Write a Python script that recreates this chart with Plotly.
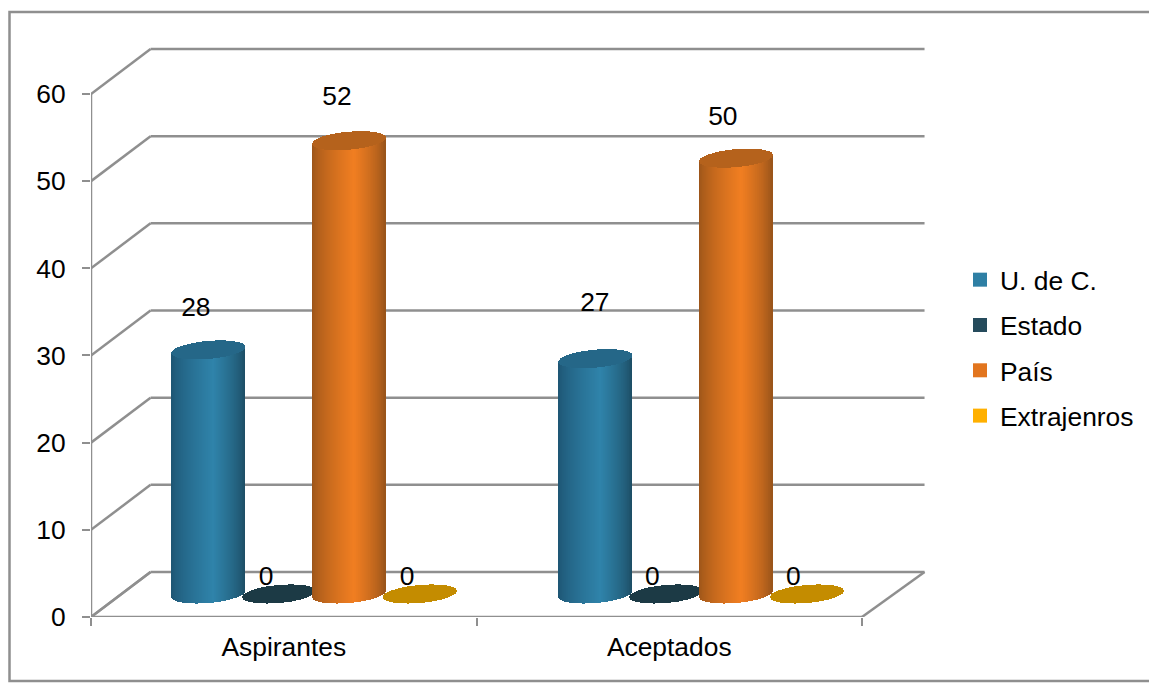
import plotly.graph_objects as go

categories = ["Aspirantes", "Aceptados"]
series_names = ["U. de C.", "Estado", "País", "Extrajenros"]
uc_values = [28, 27]
estado_values = [0, 0]
pais_values = [52, 50]
extranjeros_values = [0, 0]
y_ticks = [0, 10, 20, 30, 40, 50, 60]

# colours: (edge-left, centre, edge-right, cap, legend)
palette = [
    ("#1D5472", "#2F83AA", "#1C4C63", "#256788", "#2E7FA4"),
    ("#1C3A45", "#1C3A45", "#1C3A45", "#1C3A45", "#254B5C"),
    ("#9A5419", "#F17E21", "#97531A", "#B5621C", "#E2751E"),
    ("#C48C00", "#C48C00", "#C48C00", "#C48C00", "#FFB000"),
]
values = [uc_values, estado_values, pais_values, extranjeros_values]

# placement of each series inside a category, in category units
series_centers = [0.3045, 0.4877, 0.669, 0.853]
cat_starts = [0.0, 1.004]
half_w = 0.0945          # cylinder half width (x units)
half_h = 1.03            # ellipse half height (y units)
tilt = 0.36              # rise from centre to right end (y units)
depth_x = 0.1545         # back wall shift (x units)
depth_y = 5.16           # back wall shift (y units)
floor_y = 2.64           # where cylinders stand (y units)
n_strips = 110

# data label placement, relative to category start / value
label_x = [[0.272, 0.454, 0.638, 0.82], [0.307, 0.456, 0.639, 0.822]]
label_dy = [[7.3, 4.4, 7.5, 4.4], [8.9, 4.4, 7.2, 4.4]]

GRID = "#8F8F8F"
LW = 2.5
TXT = "#000000"
FONT = "Liberation Sans"
FS = 26.4

# plot box in window pixels
P_L, P_R, P_T, P_B = 91, 935, 40, 617
PX_PER_X = 385.5
PX_PER_Y = 8.717
x_rng = [0, (P_R - P_L) / PX_PER_X]
y_rng = [0, (P_B - P_T) / PX_PER_Y]


def hex2rgb(h):
    return [int(h[i:i + 2], 16) for i in (1, 3, 5)]


def mix(a, b, f):
    a, b = hex2rgb(a), hex2rgb(b)
    return "rgb(%d,%d,%d)" % tuple(round(p + (q - p) * f) for p, q in zip(a, b))


def shade(t, left, mid, right, peak=0.15):
    if t < peak:
        f = (t + 1) / (peak + 1)
        return mix(left, mid, min(1, (f ** 0.7)))
    f = (1 - t) / (1 - peak)
    return mix(right, mid, min(1, (f ** 0.7)))


fig = go.Figure()
ts = [-1 + (2 * i + 1) / n_strips for i in range(n_strips)]
strip_w = 2 * half_w / n_strips * 1.3


def edge(center, t, sign):
    return center + tilt * t + sign * half_h * (1 - t * t) ** 0.5


for ci in range(len(categories)):
    for si, vals in enumerate(values):
        v = vals[ci]
        cx = cat_starts[ci] + series_centers[si]
        xs = [cx + t * half_w for t in ts]
        base_low = [edge(floor_y, t, -1) for t in ts]
        top_low = [edge(floor_y + v, t, -1) for t in ts]
        top_up = [edge(floor_y + v, t, 1) for t in ts]
        left, mid, right, cap, _ = palette[si]
        fig.add_trace(go.Bar(
            x=xs, base=base_low, y=[a - b for a, b in zip(top_low, base_low)],
            width=strip_w, marker=dict(color=[shade(t, left, mid, right) for t in ts], line_width=0),
            showlegend=False, hoverinfo="skip"))
        fig.add_trace(go.Bar(
            x=xs, base=top_low, y=[a - b for a, b in zip(top_up, top_low)],
            width=strip_w, marker=dict(color=cap, line_width=0),
            showlegend=False, hoverinfo="skip"))

for si, name in enumerate(series_names):
    fig.add_trace(go.Scatter(x=[None], y=[None], name=name, legendgroup=name, mode="markers",
                             marker=dict(color=palette[si][4], symbol="square", size=14, line_width=0),
                             hoverinfo="skip"))

# axis lines and floor edges
fig.add_trace(go.Scatter(
    x=[0, 0, None, 0, 2, None, 0, depth_x, None, 2, 2 + depth_x * 1.05],
    y=[0, y_ticks[-1], None, 0, 0, None, 0, depth_y, None, 0, depth_y],
    mode="lines", line=dict(color=GRID, width=LW), cliponaxis=False,
    showlegend=False, hoverinfo="skip"))

# data labels
lx, ly, lt = [], [], []
for ci in range(len(categories)):
    for si, vals in enumerate(values):
        lx.append(ci + label_x[ci][si])
        ly.append(vals[ci] + label_dy[ci][si])
        lt.append(str(vals[ci]))
fig.add_trace(go.Scatter(x=lx, y=ly, text=lt, mode="text", textposition="middle center",
                         textfont=dict(family=FONT, size=FS, color=TXT),
                         showlegend=False, hoverinfo="skip"))

# back wall grid and depth lines
shapes = []
right_back = 2 + depth_x * 1.05
for v in y_ticks:
    shapes.append(dict(type="line", xref="x", yref="y", layer="below",
                       x0=depth_x, x1=right_back, y0=v + depth_y, y1=v + depth_y,
                       line=dict(color=GRID, width=LW)))
    shapes.append(dict(type="line", xref="x", yref="y", layer="below",
                       x0=0, x1=depth_x, y0=v, y1=v + depth_y,
                       line=dict(color=GRID, width=LW)))

# outer chart frame
W = P_R - P_L
H = P_B - P_T
shapes.append(dict(type="rect", xref="paper", yref="paper", layer="below",
                   x0=(9.5 - P_L) / W, x1=(1160 - P_L) / W,
                   y0=(P_B - 681) / H, y1=(P_B - 12) / H,
                   line=dict(color=GRID, width=LW), fillcolor="rgba(0,0,0,0)"))

fig.update_layout(
    width=1149, height=686, barmode="overlay", bargap=0,
    paper_bgcolor="white", plot_bgcolor="rgba(0,0,0,0)",
    margin=dict(l=P_L, r=1149 - P_R, t=P_T, b=686 - P_B, pad=0, autoexpand=False),
    font=dict(family=FONT, size=FS, color=TXT),
    shapes=shapes,
    legend=dict(x=(960 - P_L) / W, y=(P_B - 256) / H, xanchor="left", yanchor="top",
                font=dict(family=FONT, size=FS, color=TXT), bgcolor="rgba(0,0,0,0)",
                traceorder="grouped", tracegroupgap=8, itemclick=False, itemdoubleclick=False),
    xaxis=dict(range=x_rng, showgrid=False, zeroline=False, showline=False,
               tickmode="array", tickvals=[0.5, 1.5], ticktext=categories,
               ticks="outside", ticklen=0, tickwidth=0, ticklabelstandoff=6,
               tickfont=dict(family=FONT, size=FS, color=TXT),
               minor=dict(tickmode="array", tickvals=[0, 1, 2], ticks="outside",
                          ticklen=8, tickwidth=2, tickcolor=GRID)),
    yaxis=dict(range=y_rng, showgrid=False, zeroline=False, showline=False,
               tickmode="array", tickvals=y_ticks, ticks="outside", ticklen=8,
               tickwidth=2, tickcolor=GRID, ticklabelstandoff=11,
               tickfont=dict(family=FONT, size=FS, color=TXT)),
)

fig.write_html("out.html", post_script="document.body.style.margin='0';",
               config=dict(displayModeBar=False))
